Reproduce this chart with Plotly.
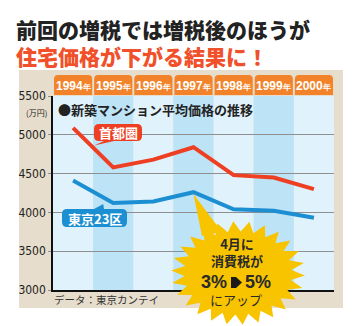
import numpy as np
import plotly.graph_objects as go

years = ["1994", "1995", "1996", "1997", "1998", "1999", "2000"]
shutoken = [5090, 4580, 4680, 4840, 4480, 4450, 4300]
tokyo23 = [4410, 4120, 4140, 4260, 4040, 4020, 3930]
yticks = [3000, 3500, 4000, 4500, 5000, 5500]

W, H = 356, 326
L, R, T, B = 53, 334, 96, 290
YMIN, YMAX = 3000, 5500
N = len(years)

def px(x):
    return (x - L) / (R - L)

def py(y):
    return (B - y) / (B - T)

def dx(i):
    return L + (i + 0.5) * (R - L) / N

def dy(v):
    return B - (v - YMIN) / (YMAX - YMIN) * (B - T)

def pt(x, y):
    return f"{px(x):.5f},{py(y):.5f}"

def rrect(x0, y0, x1, y1, r, top_only=False, ptr=None):
    s = f"M{pt(x0 + r, y0)} "
    if ptr and ptr[0] == "top":
        s += f"L{pt(ptr[1], y0)} L{pt(ptr[3], ptr[4])} L{pt(ptr[2], y0)} "
    s += f"L{pt(x1 - r, y0)} Q{pt(x1, y0)} {pt(x1, y0 + r)} "
    if top_only:
        s += f"L{pt(x1, y1)} L{pt(x0, y1)} "
    else:
        s += f"L{pt(x1, y1 - r)} Q{pt(x1, y1)} {pt(x1 - r, y1)} "
        if ptr and ptr[0] == "bottom":
            s += f"L{pt(ptr[2], y1)} L{pt(ptr[3], ptr[4])} L{pt(ptr[1], y1)} "
        s += f"L{pt(x0 + r, y1)} Q{pt(x0, y1)} {pt(x0, y1 - r)} "
    s += f"L{pt(x0, y0 + r)} Q{pt(x0, y0)} {pt(x0 + r, y0)} Z"
    return s

def ann(x, y, text, font, xa="center", ya="middle", align="center"):
    return dict(xref="paper", yref="paper", x=px(x), y=py(y), text=text,
                showarrow=False, xanchor=xa, yanchor=ya, font=font, align=align)

JP = "Noto Sans CJK JP"
NUM = "Liberation Sans Narrow, DejaVu Sans Condensed, sans-serif"
ARIAL = "Liberation Sans, Arial, sans-serif"
RED = "#ee3f22"
BLUE = "#1c8fd2"
ORANGE = "#f2832a"

fig = go.Figure()
xs = list(range(N))
fig.add_trace(go.Scatter(x=xs, y=shutoken, mode="lines",
                         line=dict(color=RED, width=4), hoverinfo="skip"))
fig.add_trace(go.Scatter(x=xs, y=tokyo23, mode="lines",
                         line=dict(color=BLUE, width=4), hoverinfo="skip"))

shapes = []
shapes.append(dict(type="rect", xref="paper", yref="paper", layer="below",
                   x0=px(19), x1=px(343), y0=py(308), y1=py(70),
                   fillcolor="#e6ddcc", line=dict(width=0)))
for i in range(N):
    col = "#e0f2fc" if i % 2 == 0 else "#bde3f7"
    shapes.append(dict(type="rect", xref="x", yref="paper", layer="below",
                       x0=i - 0.5, x1=i + 0.5, y0=0, y1=1,
                       fillcolor=col, line=dict(width=0)))
cw = (R - L) / N
annotations = []
for i, yr in enumerate(years):
    x0 = L + i * cw + 1
    x1 = L + (i + 1) * cw - 1
    shapes.append(dict(type="path", xref="paper", yref="paper", layer="above",
                       path=rrect(x0, 75, x1, 95, 4, top_only=True),
                       fillcolor=ORANGE, line=dict(width=0)))
    annotations.append(ann((x0 + x1) / 2, 86,
                           f"<b>{yr}<span style='font-size:8px'>年</span></b>",
                           dict(family=ARIAL, size=12, color="white")))

# label boxes
tipx1 = (dx(0) + dx(1)) / 2 + 1
tipy1 = (dy(shutoken[0]) + dy(shutoken[1])) / 2 - 2
shapes.append(dict(type="path", xref="paper", yref="paper", layer="above",
                   path=rrect(94, 124, 142, 141, 5, ptr=("bottom", 104, 114, tipx1, tipy1)),
                   fillcolor=RED, line=dict(width=0)))
annotations.append(ann(118, 132.5, "<b>首都圏</b>", dict(family=JP, size=13, color="white")))
tipx2 = dx(1) - 10
tipy2 = dy(tokyo23[1]) + 1
shapes.append(dict(type="path", xref="paper", yref="paper", layer="above",
                   path=rrect(62, 209, 127, 227, 5, ptr=("top", 94, 104, tipx2, tipy2)),
                   fillcolor=BLUE, line=dict(width=0)))
annotations.append(ann(94.5, 218, "<b>東京23区</b>", dict(family=JP, size=13, color="white")))

# starburst
cx, cy, rx, ry = 238, 273, 67, 52
n = 26
pts = []
for k in range(2 * n):
    a = k * np.pi / n + 0.05
    r = 1.0 if k % 2 == 0 else 0.8
    pts.append((cx + rx * r * np.cos(a), cy + ry * r * np.sin(a)))
burst = "M" + " L".join(pt(x, y) for x, y in pts) + " Z"
YEL = "#f8c400"
shapes.append(dict(type="path", xref="paper", yref="paper", layer="above",
                   path=burst, fillcolor=YEL, line=dict(width=0)))
tx, ty = dx(3), dy(tokyo23[3]) + 2
shapes.append(dict(type="path", xref="paper", yref="paper", layer="above",
                   path=f"M{pt(202, 236)} L{pt(tx, ty)} L{pt(222, 232)} Z",
                   fillcolor=YEL, line=dict(width=0)))
shapes.append(dict(type="path", xref="paper", yref="paper", layer="above",
                   path=f"M{pt(231, 277)} L{pt(236, 277)} L{pt(242, 282.5)} L{pt(236, 288)} L{pt(231, 288)} Z",
                   fillcolor="#1a1a1a", line=dict(width=0)))

txt_col = "#2a2a2a"
annotations += [
    ann(237, 252, "4月に<br>消費税が", dict(family=JP, size=13, color=txt_col, weight=700)),
    ann(229, 282, "<b>3%</b>", dict(family=ARIAL, size=18, color=txt_col), xa="right"),
    ann(243, 282, "<b>5%</b>", dict(family=ARIAL, size=18, color=txt_col), xa="left"),
    ann(236, 299, "にアップ", dict(family=JP, size=13, color=txt_col)),
]

annotations += [
    ann(14, 42,
        "<span style='color:#222222'>前回の増税では増税後のほうが</span><br>"
        "<span style='color:#f0502a'>住宅価格が下がる結果に！</span>",
        dict(family=JP, size=21, color="#222222", weight=900), xa="left", align="left"),
    ann(56, 109, "<b>●新築マンション平均価格の推移</b>",
        dict(family=JP, size=13, color="#222222"), xa="left"),
    ann(49, 112, "(万円)", dict(family=JP, size=8, color="#222222"), xa="right"),
    ann(52, 299, "データ：東京カンテイ", dict(family=JP, size=10.5, color="#333333"), xa="left"),
]

fig.update_layout(
    width=W, height=H,
    margin=dict(l=L, r=W - R, t=T, b=H - B, pad=0),
    paper_bgcolor="white",
    plot_bgcolor="#e0f2fc",
    showlegend=False,
    shapes=shapes,
    annotations=annotations,
    xaxis=dict(range=[-0.5, N - 0.5], showgrid=False, showticklabels=False,
               zeroline=False, showline=True, linecolor="#111111", linewidth=1.5,
               ticks="", fixedrange=True),
    yaxis=dict(range=[YMIN, YMAX], tickvals=yticks, ticktext=[str(v) for v in yticks],
               showgrid=True, gridcolor="#8f8f8f", gridwidth=1,
               zeroline=False, showline=True, linecolor="#111111", linewidth=1.5,
               ticks="outside", ticklen=3, tickcolor="#8f8f8f",
               tickfont=dict(family=NUM, size=12, color="#222222"),
               fixedrange=True),
)

fig.write_html("out.html")
